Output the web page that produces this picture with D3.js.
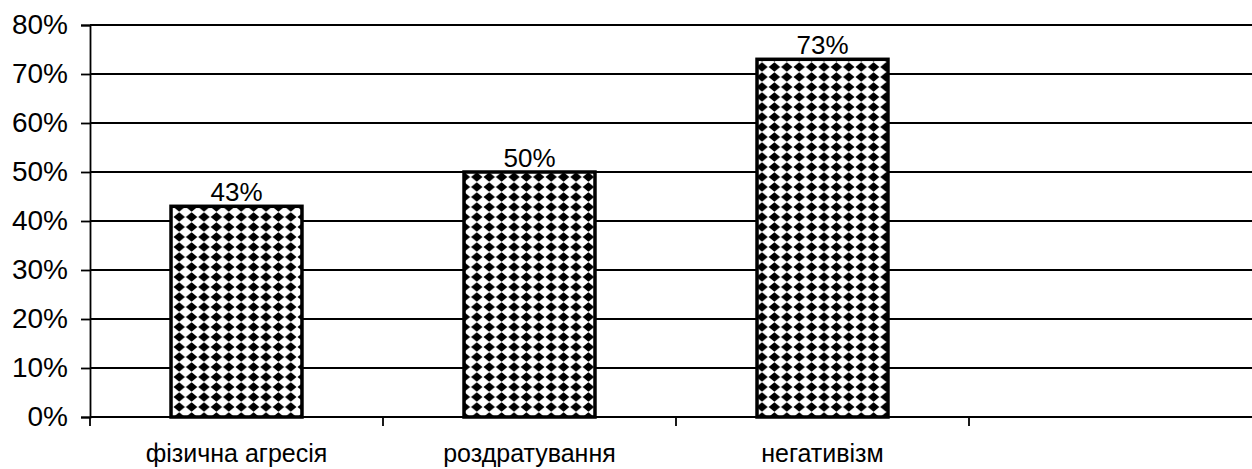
<!DOCTYPE html>
<html>
<head>
<meta charset="utf-8">
<script src="https://cdn.jsdelivr.net/npm/d3@7/dist/d3.min.js"></script>
<style>
  html, body { margin: 0; padding: 0; background: #fff; }
  svg { display: block; font-family: Arial, "Liberation Sans", sans-serif; }
</style>
</head>
<body>
<svg id="chart" width="1252" height="469"></svg>
<script>
// Share of respondents showing each form of aggression
const categories = ["фізична агресія", "роздратування", "негативізм", ""];
const values = [43, 50, 73, null];
const yTicks = [0, 10, 20, 30, 40, 50, 60, 70, 80];

const W = 1252, H = 469;
const margin = { left: 90, top: 25, bottom: 52 };
const svg = d3.select("#chart");

const x = d3.scaleBand()
  .domain(categories)
  .range([margin.left, margin.left + 293 * categories.length])
  .paddingInner(0.553)
  .paddingOuter(0.553 / 2);

const y = d3.scaleLinear()
  .domain([0, 80])
  .range([H - margin.bottom, margin.top]);

// diamond fill for the bars
const defs = svg.append("defs");
const pat = defs.append("pattern")
  .attr("id", "diamonds")
  .attr("patternUnits", "userSpaceOnUse")
  .attr("width", 12.4)
  .attr("height", 10)
  .attr("x", x(categories[0]) + 2)
  .attr("y", 2);
pat.append("rect").attr("width", 12.4).attr("height", 10).attr("fill", "#fff");
pat.append("polygon")
  .attr("points", "6.2,0.3 11.9,5 6.2,9.7 0.5,5")
  .attr("fill", "#000");

// horizontal gridlines
svg.append("g")
  .selectAll("line")
  .data(yTicks)
  .join("line")
  .attr("x1", margin.left)
  .attr("x2", W)
  .attr("y1", d => y(d))
  .attr("y2", d => y(d))
  .attr("stroke", "#000")
  .attr("stroke-width", 1.8);

// y axis
const yAxis = d3.axisLeft(y)
  .tickValues(yTicks)
  .tickFormat(d => d + "%")
  .tickSize(9)
  .tickPadding(13);
const gy = svg.append("g")
  .attr("transform", `translate(${margin.left},0)`)
  .call(yAxis);
gy.select(".domain").attr("stroke", "#000").attr("stroke-width", 1.8);
gy.selectAll(".tick line").attr("stroke", "#000").attr("stroke-width", 1.8);
gy.selectAll(".tick text")
  .attr("font-size", 28)
  .attr("fill", "#000")
  .attr("font-family", "Arial, 'Liberation Sans', sans-serif");

// x axis ticks at category boundaries
const boundaries = categories.map(c => x(c) - x.step() * x.paddingInner() / 2);
svg.append("g")
  .selectAll("line")
  .data(boundaries)
  .join("line")
  .attr("x1", d => d)
  .attr("x2", d => d)
  .attr("y1", y(0))
  .attr("y2", y(0) + 9)
  .attr("stroke", "#000")
  .attr("stroke-width", 1.8);

// category labels
svg.append("g")
  .selectAll("text")
  .data(categories)
  .join("text")
  .attr("x", d => x(d) + x.bandwidth() / 2)
  .attr("y", 462)
  .attr("text-anchor", "middle")
  .attr("font-size", 25)
  .attr("fill", "#000")
  .text(d => d);

// bars
const barData = categories.map((c, i) => ({ c, v: values[i] })).filter(d => d.v != null);
svg.append("g")
  .selectAll("rect")
  .data(barData)
  .join("rect")
  .attr("x", d => x(d.c))
  .attr("y", d => y(d.v))
  .attr("width", x.bandwidth())
  .attr("height", d => y(0) - y(d.v))
  .attr("fill", "url(#diamonds)")
  .attr("stroke", "#000")
  .attr("stroke-width", 3.5);

// value labels
svg.append("g")
  .selectAll("text")
  .data(barData)
  .join("text")
  .attr("x", d => x(d.c) + x.bandwidth() / 2)
  .attr("y", d => y(d.v) - 5)
  .attr("text-anchor", "middle")
  .attr("font-size", 26)
  .attr("fill", "#000")
  .text(d => d.v + "%");
</script>
</body>
</html>
